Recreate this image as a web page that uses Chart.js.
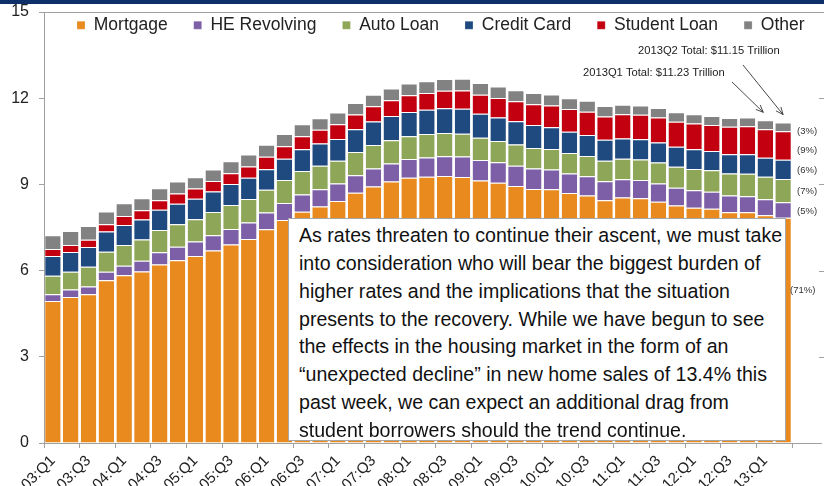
<!DOCTYPE html>
<html lang="en">
<head>
<meta charset="UTF-8">
<title>Household Debt Balance and its Composition</title>
<script src="https://cdn.jsdelivr.net/npm/chart.js"></script>
<style>
    html, body { margin: 0; padding: 0; background: #fff; }
    .wrap { position: relative; width: 824px; height: 486px; overflow: hidden; }
    .topbar { position: absolute; left: 0; top: 0; width: 824px; height: 4px; background: #0d2f6a; }
    /* commentary box laid over the chart */
    .note {
        position: absolute; left: 288px; top: 218px;
        background: #fff; border: 1px solid #a6a6a6; box-sizing: content-box;
        font-family: "Liberation Sans", Arial, sans-serif; font-size: 20.5px; line-height: 27.86px;
        color: #111; padding: 2px 0 0 10px; width: 486px; height: 219px;
    }
    .note div { white-space: nowrap; transform: scaleX(0.955); transform-origin: 0 0; }
</style>
</head>
<body>
<div class="wrap">
    <canvas id="debtChart" width="824" height="486"></canvas>
    <div class="topbar"></div>
    <div class="note">
        <div>As rates threaten to continue their ascent, we must take</div>
        <div>into consideration who will bear the biggest burden of</div>
        <div>higher rates and the implications that the situation</div>
        <div>presents to the recovery. While we have begun to see</div>
        <div>the effects in the housing market in the form of an</div>
        <div>“unexpected decline” in new home sales of 13.4% this</div>
        <div>past week, we can expect an additional drag from</div>
        <div>student borrowers should the trend continue.</div>
    </div>
</div>
<script>
    // quarters 2003Q1 .. 2013Q2, trillions of dollars
    const quarters = ['03:Q1', '03:Q2', '03:Q3', '03:Q4', '04:Q1', '04:Q2', '04:Q3', '04:Q4',
        '05:Q1', '05:Q2', '05:Q3', '05:Q4', '06:Q1', '06:Q2', '06:Q3', '06:Q4',
        '07:Q1', '07:Q2', '07:Q3', '07:Q4', '08:Q1', '08:Q2', '08:Q3', '08:Q4',
        '09:Q1', '09:Q2', '09:Q3', '09:Q4', '10:Q1', '10:Q2', '10:Q3', '10:Q4',
        '11:Q1', '11:Q2', '11:Q3', '11:Q4', '12:Q1', '12:Q2', '12:Q3', '12:Q4',
        '13:Q1', '13:Q2'];

    const mortgage = [4.94, 5.08, 5.18, 5.66, 5.84, 5.97, 6.21, 6.36, 6.51, 6.70, 6.91, 7.10,
        7.44, 7.76, 8.05, 8.23, 8.42, 8.71, 8.93, 9.10, 9.23, 9.27, 9.29, 9.26,
        9.14, 9.06, 8.94, 8.84, 8.83, 8.70, 8.61, 8.45, 8.54, 8.52, 8.40, 8.27,
        8.19, 8.15, 8.03, 8.03, 7.93, 7.84];
    const heRevolving = [0.24, 0.26, 0.27, 0.30, 0.33, 0.37, 0.43, 0.47, 0.50, 0.53, 0.54, 0.57,
        0.58, 0.59, 0.60, 0.60, 0.61, 0.61, 0.62, 0.63, 0.65, 0.67, 0.69, 0.71,
        0.71, 0.71, 0.71, 0.71, 0.69, 0.68, 0.67, 0.66, 0.64, 0.63, 0.63, 0.61,
        0.61, 0.59, 0.58, 0.56, 0.55, 0.54];
    const autoLoan = [0.64, 0.62, 0.68, 0.70, 0.72, 0.74, 0.77, 0.78, 0.78, 0.81, 0.83, 0.82,
        0.79, 0.80, 0.82, 0.82, 0.79, 0.81, 0.82, 0.81, 0.80, 0.81, 0.81, 0.79,
        0.77, 0.74, 0.74, 0.72, 0.71, 0.71, 0.71, 0.71, 0.71, 0.72, 0.73, 0.73,
        0.74, 0.75, 0.77, 0.78, 0.79, 0.81];
    const creditCard = [0.69, 0.69, 0.69, 0.70, 0.70, 0.70, 0.71, 0.72, 0.71, 0.71, 0.73, 0.74,
        0.72, 0.74, 0.75, 0.77, 0.76, 0.79, 0.82, 0.84, 0.84, 0.85, 0.86, 0.87,
        0.84, 0.82, 0.81, 0.80, 0.76, 0.74, 0.73, 0.73, 0.71, 0.70, 0.70, 0.70,
        0.68, 0.67, 0.67, 0.68, 0.66, 0.67];
    const studentLoan = [0.24, 0.24, 0.25, 0.25, 0.31, 0.32, 0.33, 0.35, 0.36, 0.37, 0.38, 0.39,
        0.43, 0.44, 0.46, 0.48, 0.51, 0.51, 0.53, 0.55, 0.58, 0.58, 0.61, 0.64,
        0.66, 0.68, 0.69, 0.72, 0.76, 0.79, 0.81, 0.81, 0.84, 0.85, 0.87, 0.87,
        0.90, 0.91, 0.96, 0.97, 0.99, 0.99];
    const other = [0.48, 0.49, 0.48, 0.45, 0.44, 0.42, 0.42, 0.42, 0.39, 0.40, 0.42, 0.42,
        0.42, 0.42, 0.41, 0.40, 0.41, 0.40, 0.40, 0.41, 0.41, 0.41, 0.41, 0.41,
        0.41, 0.40, 0.39, 0.39, 0.38, 0.38, 0.38, 0.37, 0.33, 0.33, 0.33, 0.33,
        0.32, 0.31, 0.30, 0.31, 0.31, 0.30];

    const yTicks = [0, 3, 6, 9, 12, 15];
    const shareLabels = [['(3%)', 131], ['(9%)', 150], ['(6%)', 170], ['(7%)', 191], ['(5%)', 211], ['(71%)', 290]];

    Chart.defaults.font.family = '"Liberation Sans", Arial, sans-serif';
    Chart.defaults.color = '#222';

    function series(label, data, color) {
        return {
            label: label,
            data: data,
            backgroundColor: color,
            borderColor: 'rgba(255,255,255,0.85)',
            borderWidth: { top: 1, left: 0, right: 0, bottom: 0 },
            barPercentage: 0.87,
            categoryPercentage: 1.0
        };
    }

    // legend sits inside the plot frame, so it takes no height of its own;
    // after layout it is moved into place (and its clip box restored)
    const legendInside = {
        id: 'legendInside',
        afterInit(chart) {
            const lg = chart.legend;
            const fit = lg.fit;
            lg.fit = function () { fit.call(this); this.height = 0; };
        },
        afterLayout(chart) {
            const lg = chart.legend;
            lg.top = chart.chartArea.top - 21.5;
            lg.bottom = lg.top + 50;
            lg.left += 51;
            lg.right += 120;
        }
    };

    const notes = {
        id: 'notes',
        afterDraw(chart) {
            const { ctx, chartArea: a, scales: { x, y } } = chart;
            ctx.save();
            ctx.strokeStyle = '#a0a0a0';
            ctx.lineWidth = 1;
            ctx.beginPath();
            ctx.moveTo(a.left, a.top + 0.5); ctx.lineTo(824, a.top + 0.5);
            ctx.moveTo(a.right, a.bottom + 0.5); ctx.lineTo(822, a.bottom + 0.5);
            [3, 6, 9, 12].forEach(v => {
                const py = Math.round(y.getPixelForValue(v)) + 0.5;
                ctx.moveTo(819, py); ctx.lineTo(824, py);
            });
            ctx.stroke();

            // totals with arrows to the last two bars
            ctx.fillStyle = '#222';
            ctx.font = '11.2px "Liberation Sans", Arial, sans-serif';
            ctx.textBaseline = 'middle';
            ctx.fillText('2013Q2 Total: $11.15 Trillion', 638, 51);
            ctx.fillText('2013Q1 Total: $11.23 Trillion', 583, 73);

            const n = quarters.length;
            const tot = i => mortgage[i] + heRevolving[i] + autoLoan[i] + creditCard[i] + studentLoan[i] + other[i];
            arrow(ctx, 732, 82, x.getPixelForValue(n - 2) - 2, y.getPixelForValue(tot(n - 2)) - 8);
            arrow(ctx, 743, 65, x.getPixelForValue(n - 1), y.getPixelForValue(tot(n - 1)) - 8);

            ctx.fillStyle = '#333';
            ctx.font = '9.5px "Liberation Sans", Arial, sans-serif';
            shareLabels.forEach(([t, py], i) => {
                ctx.fillText(t, i === shareLabels.length - 1 ? 790 : 797, py);
            });
            ctx.restore();
        }
    };

    function arrow(ctx, x0, y0, x1, y1) {
        const ang = Math.atan2(y1 - y0, x1 - x0);
        const h = 8;
        ctx.strokeStyle = '#333';
        ctx.lineWidth = 0.9;
        ctx.beginPath();
        ctx.moveTo(x0, y0); ctx.lineTo(x1, y1);
        ctx.moveTo(x1 - h * Math.cos(ang - 0.4), y1 - h * Math.sin(ang - 0.4));
        ctx.lineTo(x1, y1);
        ctx.lineTo(x1 - h * Math.cos(ang + 0.4), y1 - h * Math.sin(ang + 0.4));
        ctx.stroke();
    }

    new Chart(document.getElementById('debtChart'), {
        type: 'bar',
        data: {
            labels: quarters,
            datasets: [
                series('Mortgage', mortgage, '#e98a1e'),
                series('HE Revolving', heRevolving, '#7c5fa7'),
                series('Auto Loan', autoLoan, '#8ea658'),
                series('Credit Card', creditCard, '#1f4a80'),
                series('Student Loan', studentLoan, '#c3000f'),
                series('Other', other, '#828282')
            ]
        },
        options: {
            responsive: false,
            animation: false,
            layout: { padding: { top: 12, right: 32, left: 0, bottom: 0 } },
            plugins: {
                tooltip: { enabled: false },
                legend: {
                    position: 'top',
                    align: 'start',
                    labels: {
                        boxWidth: 8,
                        boxHeight: 8,
                        padding: 26,
                        color: '#222',
                        font: { size: 17.5 }
                    }
                }
            },
            scales: {
                x: {
                    stacked: true,
                    offset: true,
                    grid: {
                        offset: true,
                        drawOnChartArea: false,
                        tickLength: 5,
                        color: c => (c.index === undefined || c.index % 2 === 0) ? '#a0a0a0' : 'rgba(0,0,0,0)'
                    },
                    border: { color: '#a0a0a0' },
                    ticks: {
                        autoSkip: false,
                        maxRotation: 45,
                        minRotation: 45,
                        padding: 4,
                        color: '#222',
                        font: { size: 15 },
                        callback: (v, i) => (i % 2 === 0 ? quarters[i] : '')
                    },
                    afterFit: s => { s.height = 43; }
                },
                y: {
                    stacked: true,
                    min: yTicks[0],
                    max: yTicks[yTicks.length - 1],
                    afterBuildTicks: s => { s.ticks = yTicks.map(v => ({ value: v })); },
                    grid: { drawOnChartArea: false, tickLength: 5, color: '#a0a0a0' },
                    border: { color: '#a0a0a0' },
                    ticks: { padding: 10, color: '#222', font: { size: 16 } },
                    afterFit: s => { s.width = 44; s.paddingTop = 0; s.paddingBottom = 0; }
                }
            }
        },
        plugins: [legendInside, notes]
    });
</script>
</body>
</html>
